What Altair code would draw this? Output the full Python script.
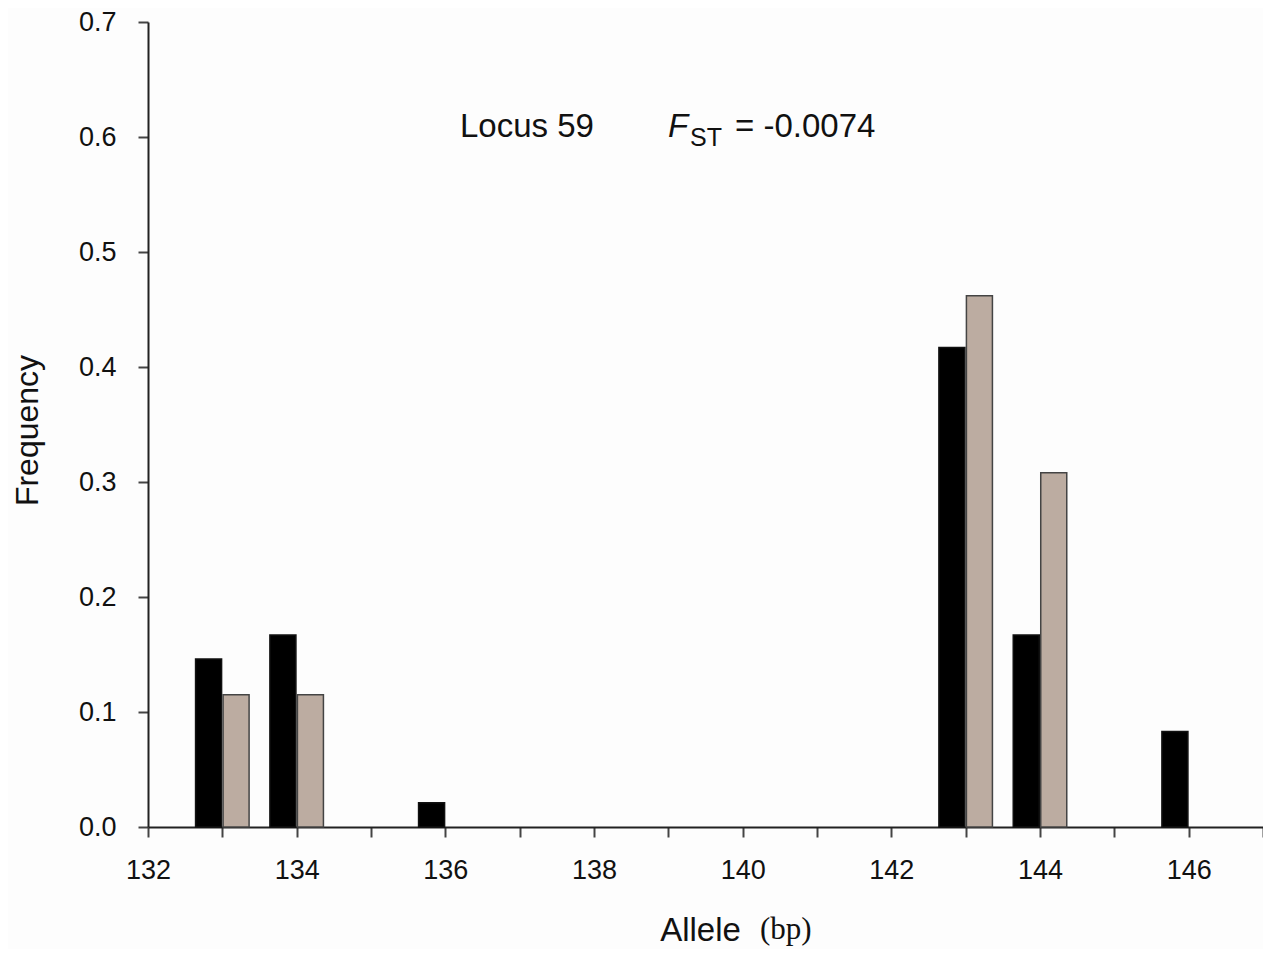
import altair as alt
import pandas as pd

# Population 1 (black) and population 2 (tan) allele frequencies
alleles_pop1 = [133, 134, 136, 143, 144, 146]
freq_pop1 = [0.146, 0.167, 0.021, 0.417, 0.167, 0.083]
alleles_pop2 = [133, 134, 143, 144]
freq_pop2 = [0.115, 0.115, 0.462, 0.308]

x_ticks = list(range(132, 148))
y_ticks = [0.0, 0.1, 0.2, 0.3, 0.4, 0.5, 0.6, 0.7]

df = pd.DataFrame({
    "allele": alleles_pop1 + alleles_pop2,
    "freq": freq_pop1 + freq_pop2,
    "pop": ["P1"] * len(alleles_pop1) + ["P2"] * len(alleles_pop2),
})

W, H = 1115, 805
FONT = "Liberation Sans"

x_scale = alt.Scale(domain=[132, 147], nice=False, zero=False)
y_scale = alt.Scale(domain=[0, 0.7], nice=False)

bars = alt.Chart(df).transform_calculate(
    lo="datum.pop == 'P1' ? datum.allele - 0.36 : datum.allele + 0.01",
    hi="datum.pop == 'P1' ? datum.allele - 0.01 : datum.allele + 0.36",
).mark_bar(strokeWidth=1.5).encode(
    x=alt.X("lo:Q", scale=x_scale,
            axis=alt.Axis(values=x_ticks, title="Allele",
                          labelExpr="datum.value % 2 == 0 ? datum.label : ''",
                          labelFlush=False, labelOverlap=False,
                          grid=False, domainColor="#222", domainWidth=2,
                          tickColor="#444", tickWidth=2, tickSize=10,
                          labelFont=FONT, labelFontSize=27, labelColor="#111",
                          labelPadding=20, titleFont=FONT, titleFontSize=33,
                          titleFontWeight="normal", titleColor="#111",
                          titleX=552, titleY=113, titleBaseline="alphabetic")),
    x2="hi:Q",
    y=alt.Y("freq:Q", scale=y_scale,
            axis=alt.Axis(values=y_ticks, format=".1f", title="Frequency",
                          labelFlush=False, labelOverlap=False,
                          grid=False, domainColor="#222", domainWidth=2,
                          tickColor="#444", tickWidth=2, tickSize=10,
                          labelFont=FONT, labelFontSize=27, labelColor="#111",
                          labelPadding=22, titleFont=FONT, titleFontSize=32,
                          titleFontWeight="normal", titleColor="#111",
                          titleX=-121, titleY=408, titleAngle=-90,
                          titleBaseline="middle", titleAlign="center")),
    y2=alt.datum(0),
    color=alt.Color("pop:N", scale=alt.Scale(domain=["P1", "P2"], range=["#000000", "#bcaca1"]), legend=None),
    stroke=alt.Stroke("pop:N", scale=alt.Scale(domain=["P1", "P2"], range=["#111111", "#444444"]), legend=None),
)

def label(text, x, y, size, font=FONT, style="normal"):
    return alt.Chart(pd.DataFrame({"t": [text]})).mark_text(
        align="left", baseline="alphabetic", font=font, fontSize=size,
        fontStyle=style, color="#111"
    ).encode(text="t:N", x=alt.value(x), y=alt.value(y))

annot = (
    label("Locus 59", 312, 115, 33)
    + label("F", 520, 115, 33, style="italic")
    + label("ST", 542, 124, 25)
    + label("= -0.0074", 587, 115, 33)
    + label("(bp)", 612, 917, 31, font="Liberation Serif")
)

chart = alt.layer(bars, annot).properties(
    width=W, height=H,
    autosize=alt.AutoSizeParams(type="none"),
    padding={"left": 140, "top": 14, "right": 0, "bottom": 122},
    background="#fdfdfd",
).configure_view(stroke=None)

chart.save("out.html", embed_options={"renderer": "svg", "actions": False})
